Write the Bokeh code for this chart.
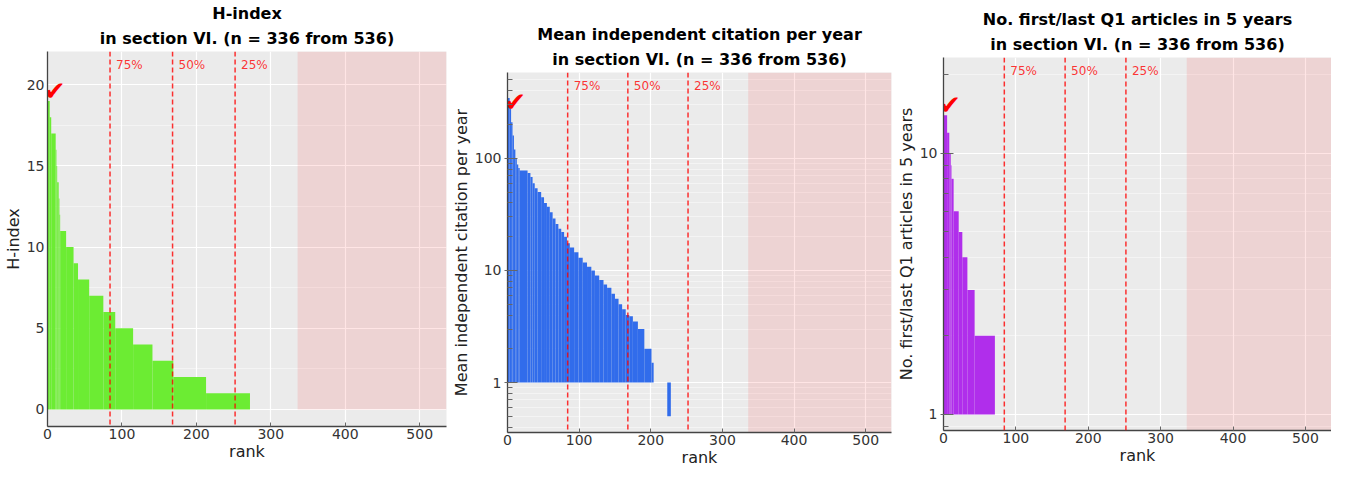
from bokeh.plotting import figure
from bokeh.layouts import row, column
from bokeh.models import (Range1d, Span, BoxAnnotation, Title, FixedTicker, Spacer,
                          SingleIntervalTicker, PrintfTickFormatter)
from bokeh.core.properties import value
from bokeh.embed import file_html
from bokeh.resources import INLINE

# ---------------- data ----------------
n_section = 336
n_total = 536
quart_ranks = [84, 168, 252]
quart_labels = ["75%", "50%", "25%"]

# H-index (step runs: rank where run ends, value)
h_rank_end = [3, 5, 11, 12, 13, 15, 16, 17, 25, 35, 41, 56, 75, 91, 115, 141, 169, 213, 272]
h_value = [19, 18, 17, 16, 15, 14, 13, 12, 11, 10, 9, 8, 7, 6, 5, 4, 3, 2, 1]
h_you = (3, 19)

# Mean independent citation per year
cit_rank_end = [3, 5, 7, 9, 11, 13, 15, 17, 28, 32, 35, 38, 42, 47, 51, 55, 59, 63,
                67, 71, 75, 79, 83, 87, 93, 99, 105, 111, 117, 122, 128, 134, 139, 145,
                150, 155, 160, 165, 170, 175, 182, 191, 201, 204, 223, 228]
cit_value = [345, 280, 210, 160, 120, 100, 88, 82, 78, 74, 68, 60, 54, 50, 45, 40, 37, 33,
             29, 26, 23.5, 22, 20, 17.5, 16, 14.5, 13, 11.8, 10.8, 10, 9, 8.2, 7.5, 7.0,
             6.2, 5.6, 5.0, 4.5, 4.0, 3.9, 3.5, 3.0, 2.0, 1.5, 1.0, 0.5]
cit_you = (4, 260)

# No. first/last Q1 articles in 5 years
q1_rank_end = [5, 8, 10, 11, 14, 21, 26, 33, 43, 71]
q1_value = [14, 12, 10, 9, 8, 6, 5, 4, 3, 2]
q1_you = (2, 14)

FONT = "DejaVu Sans"
BG = "#EBEBEB"
TOP = 51


def starts(ends):
    return [0] + ends[:-1]


def make_panel(title1, ylabel, ends, vals, color, you, yr, log,
               mb_left, frame_w, mb_right, frame_h, bottom, bar_bottom):
    p = figure(width=mb_left + frame_w + mb_right, height=TOP + frame_h + bottom,
               output_backend="svg", toolbar_location=None,
               x_range=Range1d(0, n_total), y_range=Range1d(*yr),
               y_axis_type="log" if log else "linear", title=None,
               min_border_left=mb_left, min_border_right=mb_right,
               min_border_top=TOP, min_border_bottom=bottom)
    p.background_fill_color = BG
    p.border_fill_color = "white"
    p.outline_line_color = None

    # two-line bold title above the frame (second line added first = closest)
    t2 = Title(text="in section VI. (n = %d from %d)" % (n_section, n_total),
               align="center", text_font=FONT, text_font_size="16px",
               text_font_style="bold", text_color="black", standoff=8, offset=0,
               text_line_height=0.8)
    t1 = Title(text=title1, align="center", text_font=FONT, text_font_size="16px",
               text_font_style="bold", text_color="black", standoff=0, offset=0,
               text_line_height=0.8)
    p.add_layout(t2, "above")
    p.add_layout(t1, "above")

    # grids
    p.xgrid.grid_line_color = "white"
    p.xgrid.grid_line_width = 1.2
    p.ygrid.grid_line_color = "white"
    p.ygrid.grid_line_width = 1.2
    p.ygrid.minor_grid_line_color = "white"
    p.ygrid.minor_grid_line_alpha = 0.6
    p.ygrid.minor_grid_line_width = 0.8

    # axes
    p.xaxis.ticker = FixedTicker(ticks=[0, 100, 200, 300, 400, 500])
    p.xaxis.axis_label = "rank"
    for ax in (p.xaxis[0], p.yaxis[0]):
        ax.axis_line_color = "#444444"
        ax.axis_line_width = 1.3
        ax.major_tick_line_color = "#666666"
        ax.minor_tick_line_color = "#666666"
        ax.major_label_text_font = FONT
        ax.major_label_text_font_size = "14px"
        ax.major_label_text_color = "#333333"
        ax.axis_label_text_font = FONT
        ax.axis_label_text_font_size = "16px"
        ax.axis_label_text_font_style = "normal"
        ax.axis_label_text_color = "#222222"
        ax.major_label_standoff = 3
        ax.axis_label_standoff = 1
    p.xaxis.major_tick_in = 4
    p.xaxis.major_tick_out = 0
    p.xaxis.minor_tick_in = 0
    p.xaxis.minor_tick_out = 0
    p.xaxis.major_label_standoff = 2
    p.xaxis.axis_label_standoff = 0
    p.yaxis.axis_label = ylabel
    p.yaxis.formatter = PrintfTickFormatter(format="%d")

    # shaded area outside section
    p.add_layout(BoxAnnotation(left=n_section, right=n_total,
                               bottom=(None if log else 0),
                               fill_color="red", fill_alpha=0.1, line_color=None,
                               level="underlay"))

    # bars
    p.quad(left=starts(ends), right=ends, bottom=bar_bottom, top=vals,
           fill_color=color, line_color=None)

    # quartile lines + labels
    for r in quart_ranks:
        p.add_layout(Span(location=r, dimension="height", line_color="red",
                          line_alpha=0.8, line_dash="5 3", line_width=1.5))
    p.text(x=quart_ranks, y=[yr[1]] * 3, text=quart_labels, x_offset=6, y_offset=6,
           text_font=value(FONT), text_font_size="12px", text_color="red",
           text_alpha=0.8, text_align="left", text_baseline="top")

    # marker for "you"
    p.text(x=[you[0]], y=[you[1]], text=["\u2714"], text_color="red",
           text_font=value(FONT), text_font_size="26px", text_align="left",
           text_baseline="bottom", x_offset=-6, y_offset=5)
    return p


p1 = make_panel("H-index", "H-index", h_rank_end, h_value, "#6cec33", h_you,
                (-1.05, 22.05), False, 47, 399, 2, 375, 40, 0)
p1.yaxis.ticker = SingleIntervalTicker(interval=5, num_minor_ticks=2)
p1.yaxis.major_tick_in = 0
p1.yaxis.major_tick_out = 0
p1.yaxis.minor_tick_in = 0
p1.yaxis.minor_tick_out = 0

p2 = make_panel("Mean independent citation per year", "Mean independent citation per year",
                cit_rank_end, cit_value, "#316ceb", cit_you, (0.359, 582), True,
                57, 386, 2, 367, 30, 1)
p2.yaxis.ticker = FixedTicker(ticks=[1, 10, 100],
                              minor_ticks=[0.4, 0.5, 0.6, 0.7, 0.8, 0.9,
                                           2, 3, 4, 5, 6, 7, 8, 9,
                                           20, 30, 40, 50, 60, 70, 80, 90,
                                           200, 300, 400, 500])

p3 = make_panel("No. first/last Q1 articles in 5 years", "No. first/last Q1 articles in 5 years",
                q1_rank_end, q1_value, "#b02eeb", q1_you, (0.868, 23.3), True,
                49, 389, 0, 373, 39, 1)
p3.yaxis.ticker = FixedTicker(ticks=[1, 10],
                              minor_ticks=[0.9, 2, 3, 4, 5, 6, 7, 8, 9, 20])

for p in (p2, p3):
    p.yaxis.major_tick_in = 10
    p.yaxis.major_tick_out = 3
    p.yaxis.minor_tick_in = 5
    p.yaxis.minor_tick_out = 0

layout = row(p1,
             column(Spacer(width=p2.width, height=21), p2),
             column(Spacer(width=p3.width, height=6), p3))
open("out.html", "w").write(file_html(layout, INLINE))
